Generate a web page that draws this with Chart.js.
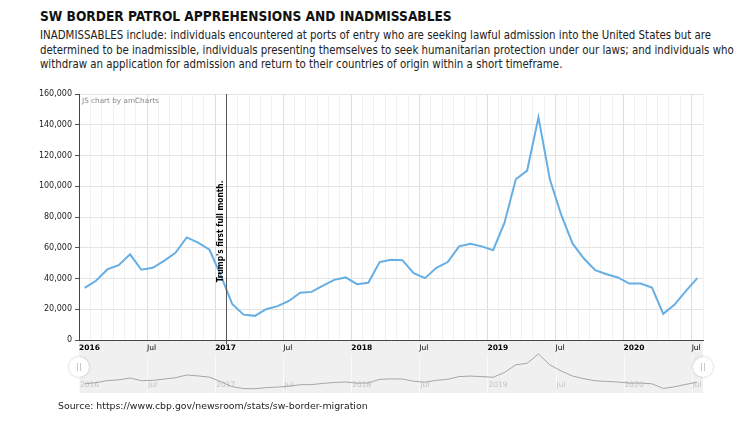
<!DOCTYPE html>
<html>
<head>
<meta charset="utf-8">
<script src="https://cdn.jsdelivr.net/npm/chart.js@4.4.1/dist/chart.umd.min.js"></script>
<style>
  html, body { margin:0; padding:0; background:#fff; }
  body { width:750px; height:425px; overflow:hidden; position:relative; font-family:"DejaVu Sans Condensed","DejaVu Sans",sans-serif; }
  .t { position:absolute; white-space:nowrap; }
  .t span { display:inline-block; }
  #title { left:40px; top:8px; font-weight:bold; color:#111; line-height:16px; }
  #sub { left:40px; top:28px; color:#222; line-height:14.5px; }
  #source { left:58px; top:399px; color:#222; line-height:14px; font-family:"DejaVu Sans",sans-serif; }
  #mainWrap { position:absolute; left:0; top:85px; width:750px; height:270px; }
  #navWrap { position:absolute; left:0; top:350px; width:750px; height:44px; }
</style>
</head>
<body>
<div id="title" class="t"><span>SW BORDER PATROL APPREHENSIONS AND INADMISSABLES</span></div>
<div id="sub" class="t">
  <div><span id="l1">INADMISSABLES include: individuals encountered at ports of entry who are seeking lawful admission into the United States but are</span></div>
  <div><span>determined to be inadmissible, individuals presenting themselves to seek humanitarian protection under our laws; and individuals who</span></div>
  <div><span>withdraw an application for admission and return to their countries of origin within a short timeframe.</span></div>
</div>
<div id="mainWrap"><canvas id="main" width="750" height="270"></canvas></div>
<div id="navWrap"><canvas id="nav" width="750" height="44"></canvas></div>
<div id="source" class="t"><span>Source: https://www.cbp.gov/newsroom/stats/sw-border-migration</span></div>
<script>
// ---------- DATA ----------
const months = [
  '2016-01','2016-02','2016-03','2016-04','2016-05','2016-06','2016-07','2016-08','2016-09','2016-10','2016-11','2016-12',
  '2017-01','2017-02','2017-03','2017-04','2017-05','2017-06','2017-07','2017-08','2017-09','2017-10','2017-11','2017-12',
  '2018-01','2018-02','2018-03','2018-04','2018-05','2018-06','2018-07','2018-08','2018-09','2018-10','2018-11','2018-12',
  '2019-01','2019-02','2019-03','2019-04','2019-05','2019-06','2019-07','2019-08','2019-09','2019-10','2019-11','2019-12',
  '2020-01','2020-02','2020-03','2020-04','2020-05','2020-06','2020-07'
];
const apprehensions = [
  33900, 38500, 45900, 48700, 55700, 45700, 47000, 51500, 56700, 66700, 63300, 58700,
  42000, 23500, 16500, 15700, 20000, 22000, 25400, 30700, 31300, 35400, 39100, 40700,
  36300, 37200, 50700, 52200, 51900, 43500, 40200, 47000, 50700, 60900, 62600, 60900,
  58400, 76100, 104500, 110200, 144800, 104500, 81500, 62800, 53000, 45400, 42800, 40700,
  36700, 36700, 34100, 17000, 23000, 32000, 40200
];
const xTickLabels = ['2016','Jul','2017','Jul','2018','Jul','2019','Jul','2020','Jul'];
const yTicks = [0, 20000, 40000, 60000, 80000, 100000, 120000, 140000, 160000];
const guideMonth = '2017-02';
const guideLabel = "Trump's first full month.";
const creditText = 'JS chart by amCharts';

// ---------- text fitting ----------
function fit(span, target, base) {
  span.parentElement.style.fontSize = base + 'px';
  const w = span.getBoundingClientRect().width;
  return base * target / w;
}
const tEl = document.querySelector('#title span');
document.getElementById('title').style.fontSize = fit(tEl, 412, 15) + 'px';
const subSize = fit(document.getElementById('l1'), 672, 12);
document.getElementById('sub').style.fontSize = subSize + 'px';
document.querySelectorAll('#sub div').forEach(d => d.style.fontSize = subSize + 'px');
const sEl = document.querySelector('#source span');
document.getElementById('source').style.fontSize = fit(sEl, 310, 11) + 'px';

// ---------- helpers ----------
function monthIndex(m) { const [y, mo] = m.split('-').map(Number); return (y - 2016) * 12 + (mo - 1); }
const points = months.map((m, i) => ({ x: monthIndex(m) + 0.5, y: apprehensions[i] }));
const xMax = monthIndex(months[months.length - 1]) + 1;
const FONT = '"DejaVu Sans", sans-serif';

function fitCanvasFont(ctx, text, target, base, weight, family) {
  ctx.font = `${weight} ${base}px ${family}`;
  const w = ctx.measureText(text).width;
  const size = base * target / w;
  ctx.font = `${weight} ${size}px ${family}`;
}

const mainPlugin = {
  id: 'mainDeco',
  beforeDraw(chart) {
    const { ctx, chartArea } = chart;
    ctx.save();
    ctx.fillStyle = '#f0f0f0';
    ctx.fillRect(chartArea.left, chartArea.bottom, chartArea.right - chartArea.left, chart.height - chartArea.bottom);
    ctx.restore();
  },
  afterDatasetsDraw(chart) {
    const { ctx, chartArea, scales } = chart;
    const x = Math.round(scales.x.getPixelForValue(monthIndex(guideMonth))) + 0.5;
    ctx.save();
    ctx.strokeStyle = '#555';
    ctx.lineWidth = 1;
    ctx.beginPath();
    ctx.moveTo(x, chartArea.top);
    ctx.lineTo(x, chartArea.bottom + 4);
    ctx.stroke();
    // rotated label
    ctx.translate(x - 4, scales.y.getPixelForValue(37500));
    ctx.rotate(-Math.PI / 2);
    fitCanvasFont(ctx, guideLabel, 102, 9, 'bold', '"DejaVu Sans Condensed", "DejaVu Sans", sans-serif');
    ctx.fillStyle = '#000';
    ctx.textAlign = 'left';
    ctx.textBaseline = 'alphabetic';
    ctx.fillText(guideLabel, 0, 0);
    ctx.restore();
    // credit
    ctx.save();
    fitCanvasFont(ctx, creditText, 77, 8, 'normal', FONT);
    ctx.fillStyle = '#888';
    ctx.textBaseline = 'middle';
    ctx.fillText(creditText, chartArea.left + 3, chartArea.top + 7);
    ctx.restore();
  }
};

new Chart(document.getElementById('main'), {
  type: 'line',
  data: { datasets: [{ data: points, borderColor: '#66aee3', borderWidth: 2, pointRadius: 0, tension: 0, fill: false }] },
  options: {
    animation: false, responsive: false, devicePixelRatio: 1,
    layout: { padding: { left: 0, right: 47, top: 9, bottom: 0 } },
    plugins: { legend: { display: false }, tooltip: { enabled: false } },
    scales: {
      x: {
        type: 'linear', min: 0, max: xMax,
        afterBuildTicks: s => { s.ticks = Array.from({ length: xMax + 1 }, (_, i) => ({ value: i })); },
        ticks: {
          autoSkip: false, maxRotation: 0, minRotation: 0, align: 'start', padding: 4, color: '#000',
          callback: v => (v % 6 === 0 && xTickLabels[v / 6] !== undefined) ? xTickLabels[v / 6] : '',
          font: c => ({ family: FONT, size: 7.5, weight: (c.tick && c.tick.value % 12 === 0) ? 'bold' : 'normal' })
        },
        grid: { color: c => (c.tick && c.tick.value % 6 === 0) ? '#dedede' : '#f1f1f1', drawTicks: false },
        border: { color: '#444', width: 1 },
        afterFit: s => { s.height = 15; }
      },
      y: {
        min: 0, max: 160000,
        afterBuildTicks: s => { s.ticks = yTicks.map(v => ({ value: v })); },
        ticks: { callback: v => v.toLocaleString('en-US'), font: { family: FONT, size: 8 }, color: '#222', padding: 3 },
        grid: { color: '#e4e4e4', tickLength: 4, tickColor: '#555' },
        border: { color: '#444', width: 1 },
        afterFit: s => { s.width = 79; }
      }
    }
  },
  plugins: [mainPlugin]
});

const navPlugin = {
  id: 'navDeco',
  beforeDatasetsDraw(chart) {
    const { ctx, chartArea, scales } = chart;
    ctx.save();
    ctx.fillStyle = '#f0f0f0';
    ctx.fillRect(chartArea.left, 5, chartArea.right - chartArea.left, chartArea.bottom - 5);
    ctx.strokeStyle = '#f9f9f9';
    ctx.lineWidth = 1;
    xTickLabels.forEach((lab, i) => {
      const x = Math.round(scales.x.getPixelForValue(i * 6)) + 0.5;
      ctx.beginPath(); ctx.moveTo(x, 5); ctx.lineTo(x, chartArea.bottom); ctx.stroke();
    });
    ctx.fillStyle = '#c4c4c4';
    ctx.font = `7.5px ${FONT}`;
    ctx.textBaseline = 'middle';
    xTickLabels.forEach((lab, i) => {
      ctx.fillText(lab, scales.x.getPixelForValue(i * 6) + 1, 35);
    });
    ctx.restore();
  },
  afterDraw(chart) {
    const { ctx, chartArea } = chart;
    [chartArea.left, chartArea.right].forEach(cx => {
      ctx.save();
      ctx.shadowColor = 'rgba(0,0,0,0.22)';
      ctx.shadowBlur = 3;
      ctx.fillStyle = '#fff';
      ctx.beginPath(); ctx.arc(cx, 17, 10, 0, Math.PI * 2); ctx.fill();
      ctx.restore();
      ctx.save();
      ctx.strokeStyle = '#c8c8c8';
      ctx.lineWidth = 1;
      ctx.beginPath();
      ctx.moveTo(cx - 1.5, 13); ctx.lineTo(cx - 1.5, 21);
      ctx.moveTo(cx + 1.5, 13); ctx.lineTo(cx + 1.5, 21);
      ctx.stroke();
      ctx.restore();
    });
  }
};

new Chart(document.getElementById('nav'), {
  type: 'line',
  data: { datasets: [{ data: points, borderColor: '#a6a6a6', borderWidth: 1, pointRadius: 0, tension: 0, fill: false }] },
  options: {
    animation: false, responsive: false, devicePixelRatio: 1,
    layout: { padding: { left: 79, right: 47, top: 2, bottom: 1 } },
    plugins: { legend: { display: false }, tooltip: { enabled: false } },
    scales: {
      x: { type: 'linear', min: 0, max: xMax, display: false },
      y: { min: 0, max: 152000, display: false }
    }
  },
  plugins: [navPlugin]
});
</script>
</body>
</html>
